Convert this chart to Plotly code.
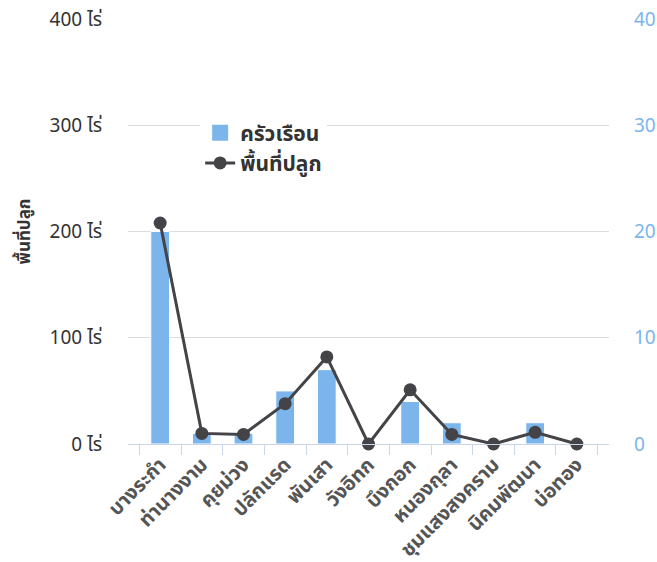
import plotly.graph_objects as go

categories = ["บางระกำ", "ท่านางงาม", "คุยม่วง", "ปลักแรด", "พันเสา", "วังอิทก",
              "บึงกอก", "หนองกุลา", "ชุมแสงสงคราม", "นิคมพัฒนา", "บ่อทอง"]
households = [20, 1, 1, 5, 7, 0, 4, 2, 0, 2, 0]
area_rai = [208, 10, 9, 38, 82, 0, 51, 9, 0, 11, 0]
left_ticks = [0, 100, 200, 300, 400]
left_tick_labels = ["0 ไร่", "100 ไร่", "200 ไร่", "300 ไร่", "400 ไร่"]
right_ticks = [0, 10, 20, 30, 40]

FONT = "Noto Sans, Noto Sans Thai, Tahoma, sans-serif"
BLUE = "#7cb5ec"
DARK = "#434348"

fig = go.Figure()
# bars on the base (right-hand) axis so the line overlay is drawn above them
fig.add_trace(go.Bar(
    x=categories, y=households, name="ครัวเรือน", yaxis="y", showlegend=False,
    marker=dict(color=BLUE, line=dict(color="#ffffff", width=1)),
))
# legend entry for the bars with a larger square symbol
fig.add_trace(go.Scatter(
    x=[None], y=[None], name="ครัวเรือน", yaxis="y", mode="markers",
    marker=dict(color=BLUE, symbol="square", size=20),
))
fig.add_trace(go.Scatter(
    x=categories, y=area_rai, name="พื้นที่ปลูก", yaxis="y2",
    mode="lines+markers", cliponaxis=False,
    line=dict(color=DARK, width=3),
    marker=dict(color=DARK, size=13),
))

fig.update_layout(
    width=657, height=562,
    margin=dict(l=128, r=48, t=19, b=118, autoexpand=False),
    paper_bgcolor="white", plot_bgcolor="white",
    font=dict(family=FONT, color="#333333", size=16),
    bargap=0.55,
    showlegend=True,
    legend=dict(
        x=0.15, y=0.78, xanchor="left", yanchor="top",
        bgcolor="white", borderwidth=0,
        font=dict(size=21, color="#333333", family=FONT, weight="bold"),
        itemsizing="trace", traceorder="normal", tracegroupgap=0,
    ),
    xaxis=dict(
        type="category", automargin=False,
        tickangle=-45,
        tickfont=dict(size=20, color="#555555", family=FONT, weight="bold"),
        showline=True, linecolor="#ccd6eb", linewidth=1,
        ticks="outside", tickson="boundaries", ticklen=10, tickcolor="#ccd6eb",
        showgrid=False,
    ),
    yaxis=dict(
        range=[0, 40], side="right", automargin=False,
        tickvals=right_ticks,
        tickfont=dict(size=19, color=BLUE, family=FONT),
        showgrid=True, gridcolor="#dcdcdc", gridwidth=1,
        zeroline=False, ticks="", ticklabelstandoff=24,
    ),
    yaxis2=dict(
        range=[0, 400], overlaying="y", side="left", automargin=False,
        tickvals=left_ticks, ticktext=left_tick_labels,
        tickfont=dict(size=19, color="#333333", family=FONT),
        showgrid=False, zeroline=False, ticks="", ticklabelstandoff=25,
        title=dict(text="พื้นที่ปลูก", font=dict(size=17, color="#333333", family=FONT, weight="bold"), standoff=14),
    ),
)

fig.write_html("out.html", config={"displayModeBar": False},
               post_script="document.body.style.margin='0';")
